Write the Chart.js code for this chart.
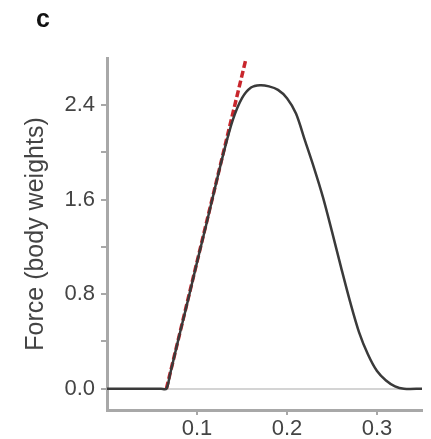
<!DOCTYPE html>
<html>
<head>
<meta charset="utf-8">
<script src="https://cdn.jsdelivr.net/npm/chart.js@4.4.1/dist/chart.umd.min.js"></script>
<style>
  html, body { margin: 0; padding: 0; background: #fff; overflow: hidden; }
</style>
</head>
<body>
<canvas id="force" width="431" height="439"></canvas>
<script>
// time (s) and force (body weights)
const time = [0, 0.02, 0.04, 0.06, 0.066, 0.07, 0.08, 0.09, 0.10, 0.11, 0.12, 0.13, 0.14, 0.15, 0.16, 0.17, 0.18, 0.19, 0.20, 0.21, 0.22, 0.23, 0.24, 0.25, 0.26, 0.27, 0.28, 0.29, 0.30, 0.31, 0.32, 0.33, 0.35];
const force = [0, 0, 0, 0, 0, 0.12, 0.44, 0.75, 1.07, 1.38, 1.70, 2.01, 2.28, 2.46, 2.55, 2.57, 2.56, 2.53, 2.46, 2.33, 2.10, 1.87, 1.62, 1.33, 1.03, 0.74, 0.48, 0.29, 0.15, 0.07, 0.02, 0, 0];
// red slope fit
const fitTime = [0.066, 0.154];
const fitForce = [0, 2.78];
// ticks
const xTicks = [0.1, 0.2, 0.3];
const yTicks = [0, 0.4, 0.8, 1.2, 1.6, 2.0, 2.4];
const yLabeled = [0, 0.8, 1.6, 2.4];

const toPts = (xs, ys) => xs.map((x, i) => ({x: x, y: ys[i]}));

const panelLabel = {
    id: 'panelLabel',
    afterDraw(chart) {
        const ctx = chart.ctx;
        ctx.save();
        ctx.font = 'bold 25px "Liberation Sans", Arial, sans-serif';
        ctx.fillStyle = '#111';
        ctx.textAlign = 'center';
        ctx.textBaseline = 'middle';
        ctx.fillText('c', 43, 20);
        ctx.restore();
    }
};

const tickFont = {family: '"Liberation Sans", Arial, sans-serif', size: 22};

new Chart(document.getElementById('force'), {
    type: 'scatter',
    data: {
        datasets: [{
            data: toPts(time, force),
            showLine: true,
            borderColor: '#3a3a3a',
            borderWidth: 2.5,
            pointRadius: 0,
            tension: 0.3
        }, {
            data: toPts(fitTime, fitForce),
            showLine: true,
            borderColor: '#c8262c',
            borderWidth: 3.5,
            borderDash: [7, 3],
            pointRadius: 0
        }]
    },
    options: {
        responsive: false,
        animation: false,
        layout: {padding: {left: 0, right: 9, top: 58, bottom: 0}},
        plugins: {legend: {display: false}, tooltip: {enabled: false}},
        scales: {
            x: {
                min: 0,
                max: 0.35,
                afterBuildTicks: s => { s.ticks = xTicks.map(v => ({value: v})); },
                afterFit: s => { s.height = 29; },
                border: {color: '#a8a8a8', width: 3},
                grid: {drawOnChartArea: false, tickLength: 5, tickColor: '#a8a8a8', lineWidth: 2},
                ticks: {color: '#444', font: tickFont, padding: 1, maxRotation: 0,
                    callback: v => v.toFixed(1)}
            },
            y: {
                min: -0.18,
                max: 2.8,
                afterBuildTicks: s => { s.ticks = yTicks.map(v => ({value: v})); },
                afterFit: s => { s.width = 107; },
                border: {color: '#a8a8a8', width: 3},
                grid: {
                    drawOnChartArea: true,
                    tickLength: 6,
                    tickColor: '#a8a8a8',
                    color: c => (c.tick && c.tick.value === 0) ? '#d4d4d4' : 'rgba(0,0,0,0)',
                    lineWidth: 2
                },
                ticks: {color: '#444', font: tickFont, padding: 6,
                    callback: v => yLabeled.includes(v) ? v.toFixed(1) : ''},
                title: {display: true, text: 'Force (body weights)', color: '#444',
                    font: {family: '"Liberation Sans", Arial, sans-serif', size: 25},
                    padding: {top: 21, bottom: 0}}
            }
        }
    },
    plugins: [panelLabel]
});
</script>
</body>
</html>
